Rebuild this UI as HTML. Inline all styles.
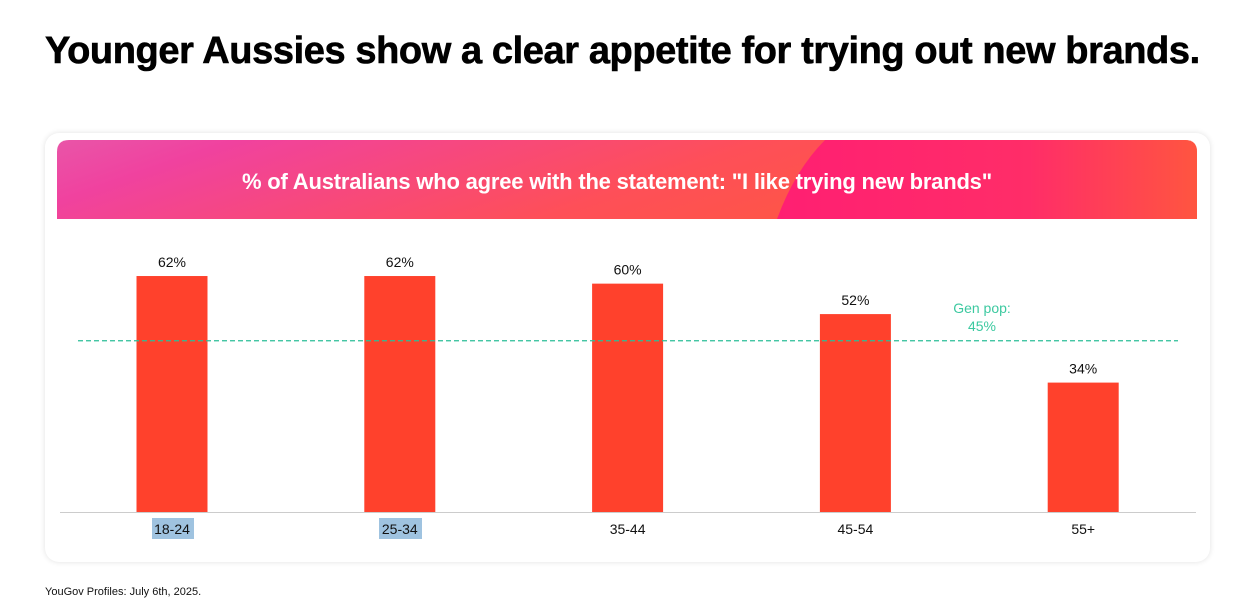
<!DOCTYPE html>
<html><head><meta charset="utf-8"><style>
body{margin:0;width:1246px;height:613px;background:#fff;font-family:"Liberation Sans",sans-serif;position:relative;overflow:hidden}
#title{position:absolute;left:45px;top:30px;font-size:38px;font-weight:bold;letter-spacing:-0.4px;color:#000;white-space:nowrap;-webkit-text-stroke:0.6px #000}
#card{position:absolute;left:45px;top:133px;width:1165px;height:429px;border-radius:14px;background:#fff;box-shadow:0 0 6px rgba(0,0,0,0.12)}
#src{position:absolute;left:45px;top:586px;font-size:11px;color:#111}
</style></head><body>
<div id="title">Younger Aussies show a clear appetite for trying out new brands.</div>
<div id="card"></div>
<svg id="chart" width="1246" height="613" style="position:absolute;left:0;top:0">
<defs>
<linearGradient id="g1" x1="0" y1="0" x2="1" y2="0.2">
<stop offset="0" stop-color="#e955a8"/><stop offset="0.15" stop-color="#f0429f"/><stop offset="0.6" stop-color="#fe4f58"/><stop offset="1" stop-color="#ff5a38"/></linearGradient>
<linearGradient id="g2" x1="0" y1="0" x2="1" y2="0">
<stop offset="0" stop-color="#ff1f72"/><stop offset="0.6" stop-color="#ff2d68"/><stop offset="1" stop-color="#ff5540"/></linearGradient>
</defs>
<g>
<path d="M57,152 Q57,140 69,140 L1185,140 Q1197,140 1197,152 L1197,219 L57,219 Z" fill="url(#g1)"/>
<path d="M825,140 L1185,140 Q1197,140 1197,152 L1197,219 L777,219 Q795,170 825,140 Z" fill="url(#g2)"/>
<text x="617" y="189" text-anchor="middle" fill="#fff" font-size="22" font-weight="bold" letter-spacing="-0.2">% of Australians who agree with the statement: "I like trying new brands"</text>
</g>
<rect x="152" y="518" width="42" height="21" fill="#9fc3e0"/>
<rect x="379" y="518" width="43" height="21" fill="#9fc3e0"/>
<g id="plot"></g>
</svg>
<div id="src">YouGov Profiles: July 6th, 2025.</div>
<script>
const categories=["18-24","25-34","35-44","45-54","55+"];
const values=[62,62,60,52,34];
const genPop=[45];
const ns="http://www.w3.org/2000/svg";
const g=document.getElementById('plot');
const base=512, scale=3.806, x0=172, step=227.8, bw=71;
const y=v=>base-v*scale, x=i=>x0+i*step;
function mk(t,a,txt){const e=document.createElementNS(ns,t);for(const k in a)e.setAttribute(k,a[k]);if(txt!==undefined)e.textContent=txt;g.appendChild(e);return e;}
categories.forEach((c,i)=>{
 const r=mk('rect',{x:x(i)-bw/2,y:y(values[i]),width:bw,height:values[i]*scale,fill:'#ff412c'});
 
 
 const t=mk('text',{x:x(i),y:y(values[i])-9,'text-anchor':'middle','font-size':14,fill:'#111'},values[i]+'%');
 
 
 const l=mk('text',{x:x(i),y:534,'text-anchor':'middle','font-size':14,fill:'#111'},c);
 
 
});
const ax=mk('line',{x1:60,x2:1196,y1:base+0.5,y2:base+0.5,stroke:'#ccc','stroke-width':1});


const gl=mk('line',{x1:78,x2:1178,y1:y(genPop[0]),y2:y(genPop[0]),stroke:'#2bbf98','stroke-width':1.3,'stroke-dasharray':'5,3'});


const t1=mk('text',{x:982,y:313,'text-anchor':'middle','font-size':14,fill:'#3cc9a0'},'Gen pop:');


const t2=mk('text',{x:982,y:331,'text-anchor':'middle','font-size':14,fill:'#3cc9a0'},genPop[0]+'%');


</script>
</body></html>
